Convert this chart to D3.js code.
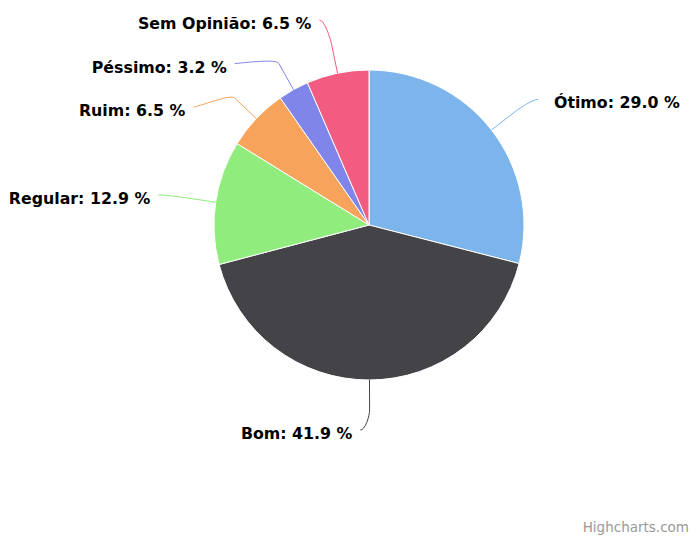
<!DOCTYPE html>
<html><head><meta charset="utf-8">
<script src="https://cdn.jsdelivr.net/npm/d3@7/dist/d3.min.js"></script>
<style>html,body{margin:0;padding:0;background:#fff;}</style>
</head><body><div id="chart"></div>
<script>
const categories = ["Ótimo", "Bom", "Regular", "Ruim", "Péssimo", "Sem Opinião"];
const values = [29.0, 41.9, 12.9, 6.5, 3.2, 6.5];
const colors = ["#7cb5ec", "#434348", "#90ed7d", "#f7a35c", "#8085e9", "#f15c80"];

const W = 690, H = 537;
const cx = 369, cy = 225, r = 155;
const labelR = 205, breakR = 185, slot = 43.5;
const fontFamily = "'DejaVu Sans', Verdana, sans-serif";

const svg = d3.select("#chart").append("svg").attr("width", W).attr("height", H);
const data = categories.map((c, i) => ({ name: c, value: values[i], color: colors[i] }));
const pie = d3.pie().sort(null).value(d => d.value);
const arcs = pie(data);
const arc = d3.arc().innerRadius(0).outerRadius(r);
const g = svg.append("g").attr("transform", `translate(${cx},${cy})`);

g.selectAll("path.slice").data(arcs).join("path")
  .attr("class", "slice")
  .attr("d", arc)
  .attr("fill", d => d.data.color)
  .attr("stroke", "#fff").attr("stroke-width", 1).attr("stroke-linejoin", "round");

// label layout (Highcharts-like)
const pts = arcs.map(a => {
  const mid = (a.startAngle + a.endAngle) / 2;
  const sx = Math.sin(mid), sy = -Math.cos(mid);
  return { a, mid, sx, sy, left: mid > Math.PI - 0.01, natY: sy * labelR };
});
const minY = -labelR, maxY = labelR;
[true, false].forEach(side => {
  const list = pts.filter(p => p.left === side).sort((p, q) => p.natY - q.natY);
  let clusters = list.map(p => ({ members: [p] }));
  const place = c => {
    const n = c.members.length;
    let m = d3.mean(c.members, (p, i) => p.natY - i * slot);
    m = Math.max(minY, Math.min(maxY - (n - 1) * slot, m));
    c.start = m; c.end = m + (n - 1) * slot;
  };
  clusters.forEach(place);
  let merged = true;
  while (merged) {
    merged = false;
    for (let i = 0; i < clusters.length - 1; i++) {
      if (clusters[i + 1].start - clusters[i].end < slot) {
        clusters[i].members = clusters[i].members.concat(clusters[i + 1].members);
        clusters.splice(i + 1, 1);
        place(clusters[i]);
        merged = true; break;
      }
    }
  }
  clusters.forEach(c => c.members.forEach((p, i) => { p.y = c.start + i * slot; }));
});
pts.forEach(p => {
  const yForX = (p.y <= minY + 2 || p.y >= maxY - 2) ? p.natY : p.y;
  const s = Math.max(-1, Math.min(1, yForX / labelR));
  const xr = Math.cos(Math.asin(s)) * labelR;
  p.lx = p.left ? -xr - 8 : xr + 7;
  p.ly = p.y;
});

const lg = g.append("g");
lg.selectAll("path.conn").data(pts).join("path")
  .attr("class", "conn")
  .attr("fill", "none")
  .attr("stroke", p => p.a.data.color)
  .attr("stroke-width", 1)
  .attr("d", p => {
    const bx = p.sx * breakR, by = p.sy * breakR;
    const tx = p.sx * r, ty = p.sy * r;
    const c1x = p.lx + (p.left ? 5 : -5);
    const c2x = bx + p.sx * 6, c2y = by + p.sy * 6;
    return `M${p.lx},${p.ly}C${c1x},${p.ly} ${c2x},${c2y} ${bx},${by}L${tx},${ty}`;
  });

lg.selectAll("text.lbl").data(pts).join("text")
  .attr("class", "lbl")
  .attr("x", p => p.left ? p.lx - 8 : p.lx + 16)
  .attr("y", p => p.ly + 9)
  .attr("text-anchor", p => p.left ? "end" : "start")
  .style("font-family", fontFamily)
  .style("font-weight", "bold")
  .style("font-size", "15.8px")
  .style("fill", "#000")
  .style("stroke", "#fff").style("stroke-width", 2).style("paint-order", "stroke")
  .style("stroke-linejoin", "round")
  .text(p => `${p.a.data.name}: ${p.a.data.value.toFixed(1)} %`);

svg.append("text")
  .attr("x", 689).attr("y", 532)
  .attr("text-anchor", "end")
  .style("font-family", fontFamily)
  .style("font-size", "13.5px")
  .style("fill", "#999")
  .text("Highcharts.com");
</script>
</body></html>
